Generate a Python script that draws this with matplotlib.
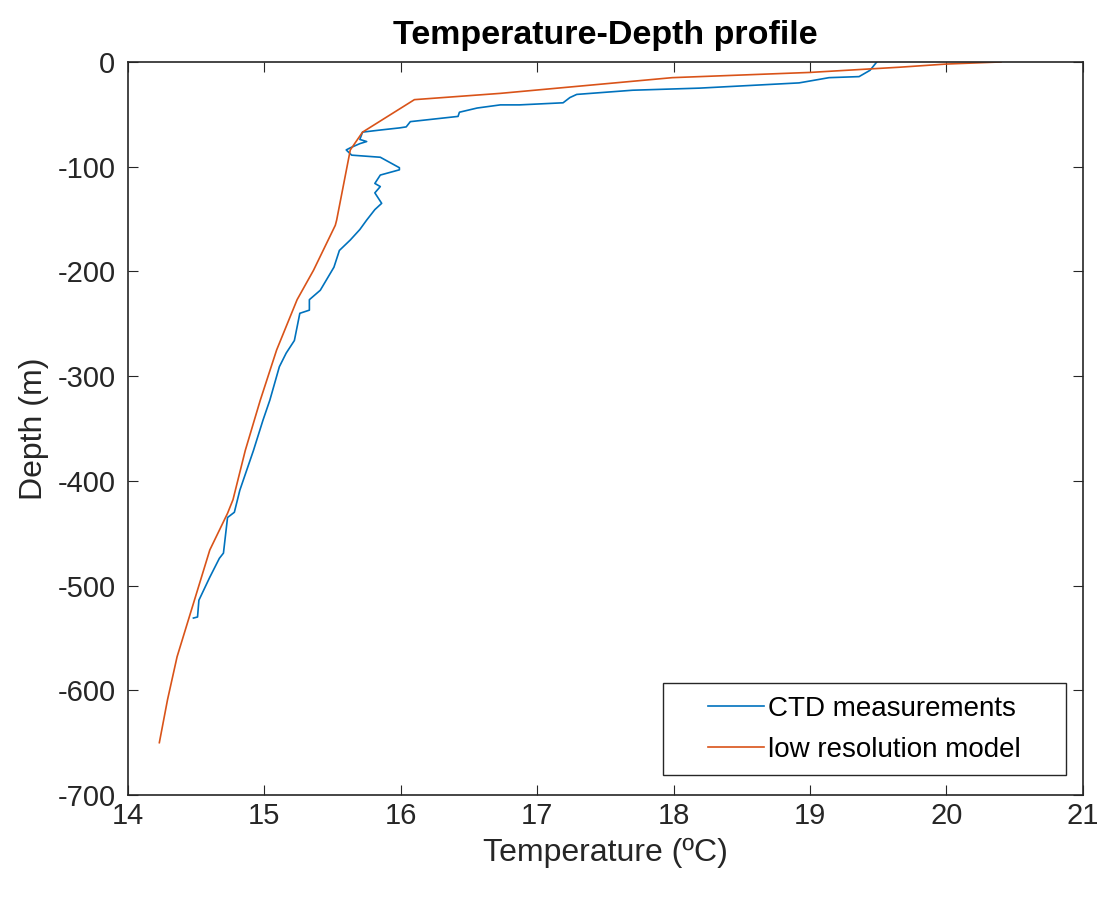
#!/usr/bin/env python3
"""Temperature-depth profile: CTD cast against the low resolution model."""

import matplotlib
matplotlib.use("Agg")
from matplotlib import pyplot as plt
from matplotlib.patches import Rectangle


# CTD cast (temperature in degC, depth in m, negative downwards)
ctd_temp = [
    19.49, 19.44, 19.36, 19.14, 18.92, 18.19, 17.70, 17.29, 17.24, 17.19,
    16.87, 16.73, 16.56, 16.43, 16.42, 16.07, 16.04, 15.99, 15.85, 15.72,
    15.70, 15.75, 15.70, 15.63, 15.60, 15.64, 15.85, 15.92, 15.99, 15.99,
    15.85, 15.81, 15.85, 15.81, 15.86, 15.81, 15.75, 15.70, 15.63, 15.55,
    15.51, 15.41, 15.33, 15.33, 15.26, 15.22, 15.16, 15.11, 15.04, 14.99,
    14.92, 14.82, 14.78, 14.73, 14.70, 14.67, 14.60, 14.52, 14.51, 14.48,
]
ctd_depth = [
    0, -8, -14, -15, -20, -25, -27, -31, -34, -39,
    -41, -41, -44, -48, -52, -57, -62, -63, -65, -67,
    -74, -76, -78, -82, -84, -89, -91, -96, -101, -103,
    -108, -116, -119, -125, -135, -141, -151, -160, -170, -180,
    -196, -218, -227, -237, -240, -266, -278, -291, -323, -342,
    -371, -409, -430, -435, -469, -474, -492, -514, -530, -531,
]

# low resolution model profile
model_temp = [
    20.40, 20.00, 19.66, 19.00, 17.99, 16.73, 16.10, 15.72, 15.63, 15.53,
    15.52, 15.36, 15.24, 15.09, 14.97, 14.86, 14.77, 14.73, 14.60, 14.48,
    14.36, 14.29, 14.23,
]
model_depth = [
    0, -2, -5, -10, -15, -30, -36, -67, -84, -151,
    -156, -199, -227, -275, -323, -371, -418, -431, -466, -517,
    -568, -609, -650,
]

CTD_COLOR = "#0072BD"
MODEL_COLOR = "#D95319"
AXIS_COLOR = "#262626"


def main():
    plt.rcParams.update(
        {
            "font.family": ["Liberation Sans", "DejaVu Sans"],
            "axes.unicode_minus": False,
            "axes.edgecolor": AXIS_COLOR,
            "axes.linewidth": 1.2,
            "xtick.color": AXIS_COLOR,
            "ytick.color": AXIS_COLOR,
            "xtick.direction": "in",
            "ytick.direction": "in",
            "xtick.top": True,
            "ytick.right": True,
            "xtick.major.size": 7,
            "ytick.major.size": 7,
        }
    )

    fig = plt.figure(figsize=(11.06, 9.11), dpi=100)
    ax = fig.add_axes([0.1157, 0.1273, 0.8633, 0.8047])

    ax.plot(ctd_temp, ctd_depth, color=CTD_COLOR, linewidth=1.2, label="CTD measurements")
    ax.plot(model_temp, model_depth, color=MODEL_COLOR, linewidth=1.2, label="low resolution model")

    ax.set_xlim(14, 21)
    ax.set_ylim(-700, 0)
    ax.set_xticks(range(14, 22))
    ax.set_yticks(range(-700, 1, 100))
    ax.tick_params(labelsize=21, pad=5)
    ax.tick_params(axis="y", pad=9)

    ax.set_title("Temperature-Depth profile", fontsize=24.5, fontweight="bold", pad=13)
    ax.set_xlabel("Temperature (ºC)", fontsize=23, color=AXIS_COLOR, labelpad=6)
    ax.set_ylabel("Depth (m)", fontsize=23, color=AXIS_COLOR, labelpad=6)

    leg = ax.legend(
        loc="lower right",
        bbox_to_anchor=(0.944, 0.033),
        borderaxespad=0,
        fontsize=20,
        frameon=False,
        handlelength=2.0,
        handletextpad=0.15,
        borderpad=0.3,
        labelspacing=0.54,
    )

    # MATLAB-style legend box with wide side margins
    fig.canvas.draw()
    box = leg.get_window_extent().transformed(fig.transFigure.inverted())
    xpad = 37 / fig.bbox.width
    ypad = 4 / fig.bbox.height
    fig.add_artist(
        Rectangle(
            (box.x0 - xpad, box.y0 - ypad),
            box.width + 2 * xpad,
            box.height + 2 * ypad,
            transform=fig.transFigure,
            fill=False,
            edgecolor=AXIS_COLOR,
            linewidth=1.0,
        )
    )

    fig.savefig("out.png", dpi=100)


if __name__ == "__main__":
    main()
